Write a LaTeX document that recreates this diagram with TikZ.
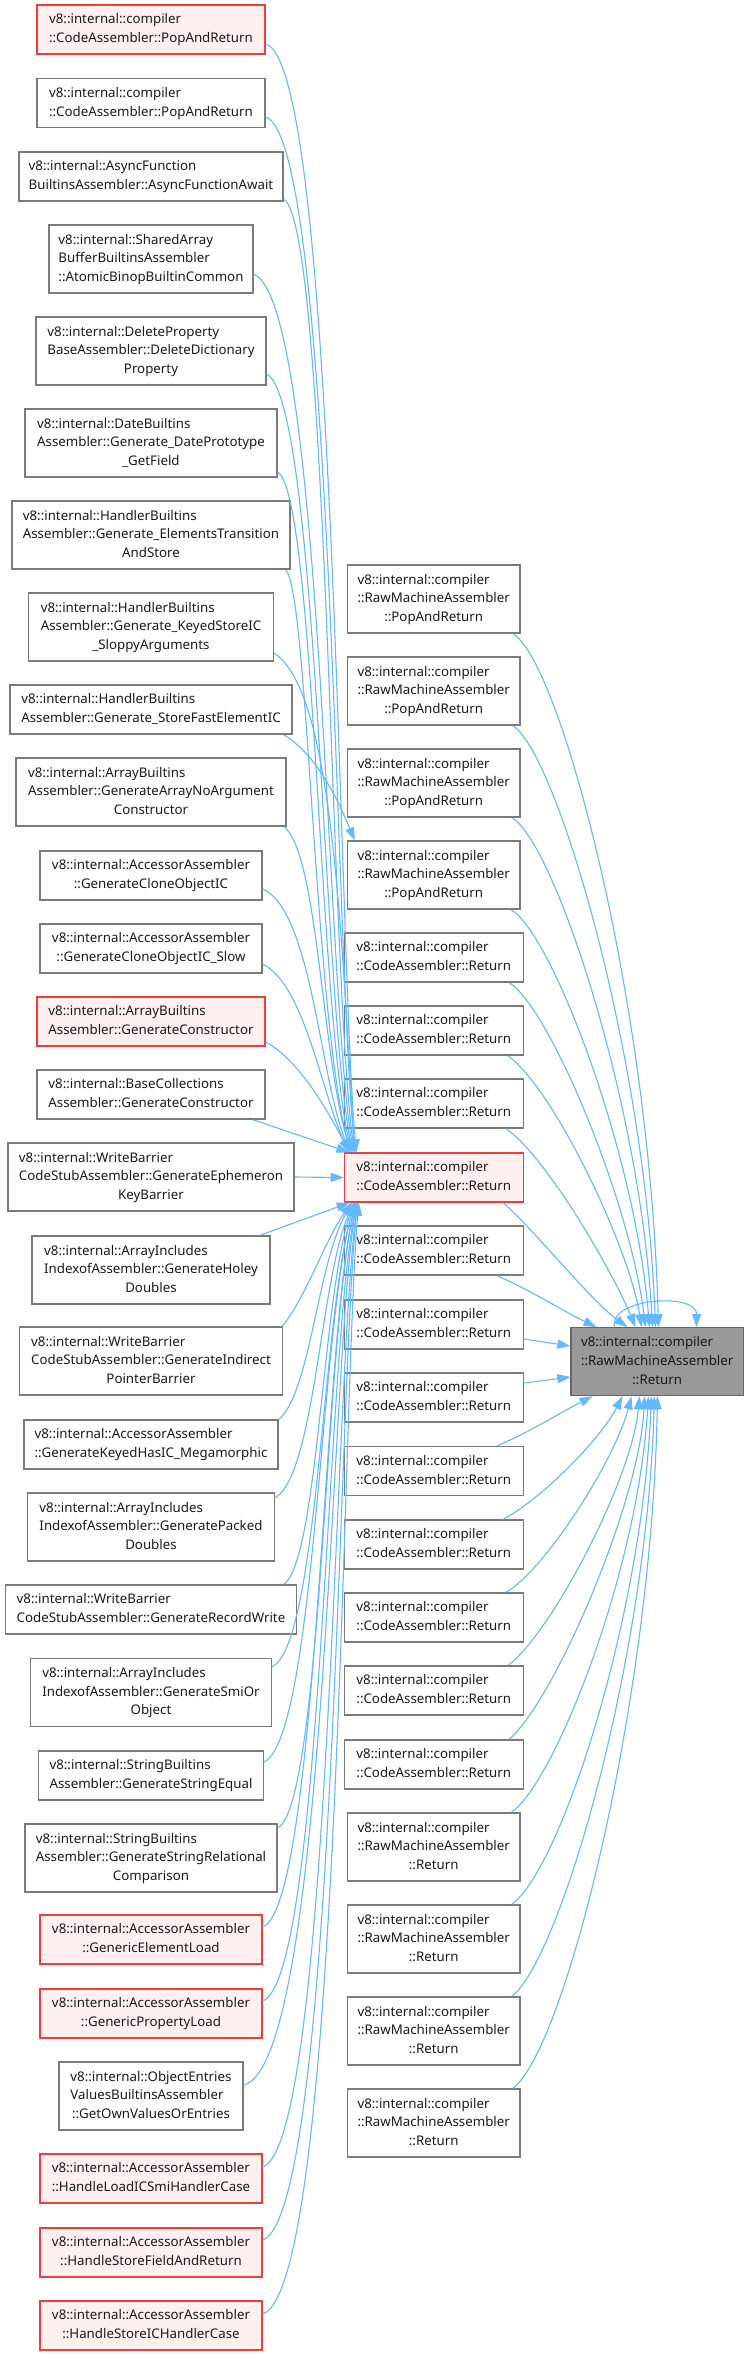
\documentclass[tikz,border=0pt]{standalone}
\usepackage{fontspec}
\setmainfont{Noto Sans}
\usetikzlibrary{arrows.meta}
\definecolor{edgeblue}{HTML}{63B8FF}
\definecolor{boxgray}{HTML}{7A7A7A}
\definecolor{boxred}{HTML}{F23C3C}
\definecolor{fillred}{HTML}{FFF0F0}
\definecolor{focusfill}{HTML}{999999}
\definecolor{focusdraw}{HTML}{666666}
\definecolor{txt}{HTML}{1A1A1A}
\newcommand\labtwo[2]{\begin{tabular}{@{}l@{}}#1\\\multicolumn{1}{@{}c@{}}{#2}\end{tabular}}
\newcommand\labthree[3]{\begin{tabular}{@{}l@{}}#1\\#2\\\multicolumn{1}{@{}c@{}}{#3}\end{tabular}}
\tikzset{
  wbox/.style={draw=boxgray, fill=white, line width=1.2pt, inner sep=0pt,
    font=\fontsize{13.3}{18.6}\selectfont, text=txt, anchor=center},
  rbox/.style={wbox, draw=boxred, fill=fillred},
  gbox/.style={wbox, draw=focusdraw, fill=focusfill},
  two/.style={minimum height=49pt},
  three/.style={minimum height=68pt},
  call/.style={draw=edgeblue, line width=1.1pt, -{Triangle[length=13pt,width=9pt]}},
}
\begin{document}
\begin{tikzpicture}[x=1pt,y=1pt]
\fill[white] (0,0) rectangle (749,-2355);
\useasboundingbox (0,0) rectangle (749,-2355);
% left column
\node[rbox,two,minimum width=228pt] (a1) at (151,-29.5) {\labtwo{v8::internal::compiler}{::CodeAssembler::PopAndReturn}};
\node[wbox,two,minimum width=228pt] (a2) at (151,-103) {\labtwo{v8::internal::compiler}{::CodeAssembler::PopAndReturn}};
\node[wbox,two,minimum width=264pt] (a3) at (151,-176.5) {\labtwo{v8::internal::AsyncFunction}{BuiltinsAssembler::AsyncFunctionAwait}};
\node[wbox,three,minimum width=204pt] (a4) at (151,-259) {\labthree{v8::internal::SharedArray}{BufferBuiltinsAssembler}{::AtomicBinopBuiltinCommon}};
\node[wbox,three,minimum width=230pt] (a5) at (151,-351) {\labthree{v8::internal::DeleteProperty}{BaseAssembler::DeleteDictionary}{Property}};
\node[wbox,three,minimum width=252pt] (a6) at (151,-443) {\labthree{v8::internal::DateBuiltins}{Assembler::Generate\_DatePrototype}{\_GetField}};
\node[wbox,three,minimum width=278pt] (a7) at (151,-535) {\labthree{v8::internal::HandlerBuiltins}{Assembler::Generate\_ElementsTransition}{AndStore}};
\node[wbox,three,minimum width=245pt] (a8) at (151,-627) {\labthree{v8::internal::HandlerBuiltins}{Assembler::Generate\_KeyedStoreIC}{\_SloppyArguments}};
\node[wbox,two,minimum width=282pt] (a9) at (151,-709.5) {\labtwo{v8::internal::HandlerBuiltins}{Assembler::Generate\_StoreFastElementIC}};
\node[wbox,three,minimum width=270pt] (a10) at (151,-792) {\labthree{v8::internal::ArrayBuiltins}{Assembler::GenerateArrayNoArgument}{Constructor}};
\node[wbox,two,minimum width=222pt] (a11) at (151,-875.5) {\labtwo{v8::internal::AccessorAssembler}{::GenerateCloneObjectIC}};
\node[wbox,two,minimum width=222pt] (a12) at (151,-948.5) {\labtwo{v8::internal::AccessorAssembler}{::GenerateCloneObjectIC\_Slow}};
\node[rbox,two,minimum width=228pt] (a13) at (151,-1021.5) {\labtwo{v8::internal::ArrayBuiltins}{Assembler::GenerateConstructor}};
\node[wbox,two,minimum width=228pt] (a14) at (151,-1094.5) {\labtwo{v8::internal::BaseCollections}{Assembler::GenerateConstructor}};
\node[wbox,three,minimum width=286pt] (a15) at (151,-1177) {\labthree{v8::internal::WriteBarrier}{CodeStubAssembler::GenerateEphemeron}{KeyBarrier}};
\node[wbox,three,minimum width=238pt] (a16) at (151,-1270) {\labthree{v8::internal::ArrayIncludes}{IndexofAssembler::GenerateHoley}{Doubles}};
\node[wbox,three,minimum width=262.6pt] (a17) at (151,-1361) {\labthree{v8::internal::WriteBarrier}{CodeStubAssembler::GenerateIndirect}{PointerBarrier}};
\node[wbox,two,minimum width=254pt] (a18) at (151,-1444.5) {\labtwo{v8::internal::AccessorAssembler}{::GenerateKeyedHasIC\_Megamorphic}};
\node[wbox,three,minimum width=246.6pt] (a19) at (151,-1527) {\labthree{v8::internal::ArrayIncludes}{IndexofAssembler::GeneratePacked}{Doubles}};
\node[wbox,two,minimum width=291.7pt] (a20) at (151,-1609.5) {\labtwo{v8::internal::WriteBarrier}{CodeStubAssembler::GenerateRecordWrite}};
\node[wbox,three,minimum width=240.6pt] (a21) at (151,-1692.5) {\labthree{v8::internal::ArrayIncludes}{IndexofAssembler::GenerateSmiOr}{Object}};
\node[wbox,two,minimum width=224.3pt] (a22) at (151,-1775.5) {\labtwo{v8::internal::StringBuiltins}{Assembler::GenerateStringEqual}};
\node[wbox,three,minimum width=252pt] (a23) at (151,-1858) {\labthree{v8::internal::StringBuiltins}{Assembler::GenerateStringRelational}{Comparison}};
\node[rbox,two,minimum width=222pt] (a24) at (151,-1939.5) {\labtwo{v8::internal::AccessorAssembler}{::GenericElementLoad}};
\node[rbox,two,minimum width=222pt] (a25) at (151,-2013.5) {\labtwo{v8::internal::AccessorAssembler}{::GenericPropertyLoad}};
\node[wbox,three,minimum width=184pt] (a26) at (151,-2096) {\labthree{v8::internal::ObjectEntries}{ValuesBuiltinsAssembler}{::GetOwnValuesOrEntries}};
\node[rbox,two,minimum width=222pt] (a27) at (151,-2178.5) {\labtwo{v8::internal::AccessorAssembler}{::HandleLoadICSmiHandlerCase}};
\node[rbox,two,minimum width=222pt] (a28) at (151,-2252.5) {\labtwo{v8::internal::AccessorAssembler}{::HandleStoreFieldAndReturn}};
\node[rbox,two,minimum width=222pt] (a29) at (151,-2325.5) {\labtwo{v8::internal::AccessorAssembler}{::HandleStoreICHandlerCase}};
% middle column
\node[wbox,three,minimum width=172.7pt] (m1) at (433.7,-599) {\labthree{v8::internal::compiler}{::RawMachineAssembler}{::PopAndReturn}};
\node[wbox,three,minimum width=172.7pt] (m2) at (433.7,-691) {\labthree{v8::internal::compiler}{::RawMachineAssembler}{::PopAndReturn}};
\node[wbox,three,minimum width=172.7pt] (m3) at (433.7,-783) {\labthree{v8::internal::compiler}{::RawMachineAssembler}{::PopAndReturn}};
\node[wbox,three,minimum width=172.7pt] (m4) at (433.7,-875) {\labthree{v8::internal::compiler}{::RawMachineAssembler}{::PopAndReturn}};
\node[wbox,two,minimum width=179pt] (m5) at (433.8,-957.5) {\labtwo{v8::internal::compiler}{::CodeAssembler::Return}};
\node[wbox,two,minimum width=179pt] (m6) at (433.8,-1030.5) {\labtwo{v8::internal::compiler}{::CodeAssembler::Return}};
\node[wbox,two,minimum width=179pt] (m7) at (433.8,-1103.5) {\labtwo{v8::internal::compiler}{::CodeAssembler::Return}};
\node[rbox,two,minimum width=179pt] (m8) at (433.8,-1177.5) {\labtwo{v8::internal::compiler}{::CodeAssembler::Return}};
\node[wbox,two,minimum width=179pt] (m9) at (433.8,-1250.5) {\labtwo{v8::internal::compiler}{::CodeAssembler::Return}};
\node[wbox,two,minimum width=179pt] (m10) at (433.8,-1324.5) {\labtwo{v8::internal::compiler}{::CodeAssembler::Return}};
\node[wbox,two,minimum width=179pt] (m11) at (433.8,-1397.5) {\labtwo{v8::internal::compiler}{::CodeAssembler::Return}};
\node[wbox,two,minimum width=179pt] (m12) at (433.8,-1471) {\labtwo{v8::internal::compiler}{::CodeAssembler::Return}};
\node[wbox,two,minimum width=179pt] (m13) at (433.8,-1544.5) {\labtwo{v8::internal::compiler}{::CodeAssembler::Return}};
\node[wbox,two,minimum width=179pt] (m14) at (433.8,-1617.5) {\labtwo{v8::internal::compiler}{::CodeAssembler::Return}};
\node[wbox,two,minimum width=179pt] (m15) at (433.8,-1690.5) {\labtwo{v8::internal::compiler}{::CodeAssembler::Return}};
\node[wbox,two,minimum width=179pt] (m16) at (433.8,-1764.5) {\labtwo{v8::internal::compiler}{::CodeAssembler::Return}};
\node[wbox,three,minimum width=172.7pt] (m17) at (433.7,-1847) {\labthree{v8::internal::compiler}{::RawMachineAssembler}{::Return}};
\node[wbox,three,minimum width=172.7pt] (m18) at (433.7,-1939) {\labthree{v8::internal::compiler}{::RawMachineAssembler}{::Return}};
\node[wbox,three,minimum width=172.7pt] (m19) at (433.7,-2031) {\labthree{v8::internal::compiler}{::RawMachineAssembler}{::Return}};
\node[wbox,three,minimum width=172.7pt] (m20) at (433.7,-2123) {\labthree{v8::internal::compiler}{::RawMachineAssembler}{::Return}};
% focus node
\node[gbox,three,minimum width=172.3pt] (g) at (657.2,-1361.7) {\labthree{v8::internal::compiler}{::RawMachineAssembler}{::Return}};
% left column -> CodeAssembler::Return (red)
\draw[call] ([yshift=-14.5pt]a1.east) .. controls (336,-62) and (338,-950) .. ([xshift=12.7pt]m8.north west);
\draw[call] ([yshift=-14pt]a2.east) .. controls (333,-137) and (335,-960) .. ([xshift=11.7pt]m8.north west);
\draw[call] ([yshift=-22.5pt]a3.east) .. controls (328,-225) and (330,-970) .. ([xshift=10.7pt]m8.north west);
\draw[call] ([yshift=-15pt]a4.east) .. controls (322,-300) and (326,-980) .. ([xshift=9.7pt]m8.north west);
\draw[call] ([yshift=-23pt]a5.east) .. controls (318,-400) and (322,-990) .. ([xshift=8.7pt]m8.north west);
\draw[call] ([yshift=-29pt]a6.east) .. controls (315,-495) and (318,-1000) .. ([xshift=7.7pt]m8.north west);
\draw[call] ([xshift=-5pt]a7.south east) .. controls (308,-590) and (314,-1010) .. ([xshift=6.7pt]m8.north west);
\draw[call] ([yshift=-26pt]a8.east) .. controls (330,-690) and (340,-900) .. ([xshift=10.7pt]m8.north west);
\draw[call] ([xshift=-9pt]a9.south east) .. controls (318,-755) and (340,-805) .. ([xshift=8pt]m4.north west);
\draw[call] ([xshift=-3pt]a10.south east) .. controls (318,-850) and (322,-1060) .. ([xshift=7.7pt]m8.north west);
\draw[call] ([yshift=-13.5pt]a11.east) .. controls (312,-910) and (320,-1080) .. ([xshift=6.7pt]m8.north west);
\draw[call] ([yshift=-15.5pt]a12.east) .. controls (305,-985) and (322,-1095) .. ([xshift=5.7pt]m8.north west);
\draw[call] ([yshift=-20.5pt]a13.east) .. controls (300,-1060) and (330,-1115) .. ([xshift=5.7pt]m8.north west);
\draw[call] ([xshift=-13pt]a14.south east) -- ([xshift=5.7pt]m8.north west);
\draw[call] (a15.east) -- (m8.west);
\draw[call] ([xshift=-11pt]a16.north east) -- ([xshift=6pt]m8.south west);
\draw[call] ([xshift=-1pt]a17.north east) .. controls (305,-1300) and (325,-1240) .. ([xshift=8pt]m8.south west);
\draw[call] (a18.north east) .. controls (310,-1395) and (318,-1260) .. ([xshift=9pt]m8.south west);
\draw[call] ([yshift=29pt]a19.east) .. controls (315,-1475) and (320,-1280) .. ([xshift=10pt]m8.south west);
\draw[call] ([xshift=-13.7pt]a20.north east) .. controls (318,-1560) and (322,-1300) .. ([xshift=10pt]m8.south west);
\draw[call] ([yshift=25.5pt]a21.east) .. controls (318,-1645) and (322,-1320) .. ([xshift=11pt]m8.south west);
\draw[call] ([yshift=13.5pt]a22.east) .. controls (315,-1740) and (320,-1330) .. ([xshift=11pt]m8.south west);
\draw[call] ([yshift=30pt]a23.east) .. controls (322,-1805) and (325,-1340) .. ([xshift=12pt]m8.south west);
\draw[call] ([yshift=12.5pt]a24.east) .. controls (318,-1905) and (322,-1350) .. ([xshift=12pt]m8.south west);
\draw[call] ([yshift=12.5pt]a25.east) .. controls (322,-1980) and (326,-1360) .. ([xshift=13pt]m8.south west);
\draw[call] ([yshift=11pt]a26.east) .. controls (326,-2065) and (330,-1370) .. ([xshift=13pt]m8.south west);
\draw[call] ([yshift=11.5pt]a27.east) .. controls (330,-2145) and (334,-1380) .. ([xshift=14pt]m8.south west);
\draw[call] ([yshift=12.5pt]a28.east) .. controls (335,-2215) and (338,-1390) .. ([xshift=14pt]m8.south west);
\draw[call] ([yshift=11.5pt]a29.east) .. controls (340,-2290) and (342,-1400) .. ([xshift=15pt]m8.south west);
% middle column -> focus
\draw[call] ([xshift=-8pt]m1.south east) .. controls (560,-660) and (650,-1000) .. ([xshift=88pt]g.north west);
\draw[call] ([xshift=-8pt]m2.south east) .. controls (555,-750) and (645,-1050) .. ([xshift=85pt]g.north west);
\draw[call] ([xshift=-9pt]m3.south east) .. controls (553,-840) and (640,-1100) .. ([xshift=82pt]g.north west);
\draw[call] ([xshift=-10pt]m4.south east) .. controls (550,-930) and (635,-1150) .. ([xshift=79pt]g.north west);
\draw[call] ([xshift=-15pt]m5.south east) .. controls (548,-1005) and (630,-1200) .. ([xshift=75pt]g.north west);
\draw[call] ([xshift=-16pt]m6.south east) .. controls (555,-1090) and (630,-1250) .. ([xshift=71pt]g.north west);
\draw[call] ([xshift=-18pt]m7.south east) .. controls (545,-1155) and (612,-1270) .. ([xshift=65pt]g.north west);
\draw[call] ([xshift=-21pt]m8.south east) .. controls (530,-1225) and (590,-1300) .. ([xshift=57pt]g.north west);
\draw[call] ([xshift=-27pt]m9.south east) .. controls (530,-1290) and (565,-1312) .. ([xshift=26pt]g.north west);
\draw[call] ([yshift=-14.5pt]m10.east) -- ([yshift=15.7pt]g.west);
\draw[call] ([yshift=14.5pt]m11.east) -- ([yshift=-15.3pt]g.west);
\draw[call] ([xshift=-27pt]m12.north east) .. controls (530,-1432) and (565,-1410) .. ([xshift=22pt]g.south west);
\draw[call] ([xshift=-21pt]m13.north east) .. controls (540,-1500) and (600,-1440) .. ([xshift=52pt]g.south west);
\draw[call] ([xshift=-18pt]m14.north east) .. controls (545,-1570) and (615,-1460) .. ([xshift=61pt]g.south west);
\draw[call] ([xshift=-16pt]m15.north east) .. controls (550,-1635) and (632,-1480) .. ([xshift=69pt]g.south west);
\draw[call] ([xshift=-15pt]m16.north east) .. controls (555,-1700) and (640,-1500) .. ([xshift=74pt]g.south west);
\draw[call] ([xshift=-10pt]m17.north east) .. controls (550,-1790) and (637,-1580) .. ([xshift=78pt]g.south west);
\draw[call] ([xshift=-9pt]m18.north east) .. controls (560,-1870) and (642,-1620) .. ([xshift=81pt]g.south west);
\draw[call] ([xshift=-9pt]m19.north east) .. controls (560,-1960) and (647,-1660) .. ([xshift=84pt]g.south west);
\draw[call] ([xshift=-8pt]m20.north east) .. controls (565,-2050) and (652,-1700) .. ([xshift=87pt]g.south west);
% self loop
\draw[call] ([xshift=44pt]g.north west) .. controls (608,-1298) and (697,-1292) .. ([xshift=126pt]g.north west);
\end{tikzpicture}
\end{document}
